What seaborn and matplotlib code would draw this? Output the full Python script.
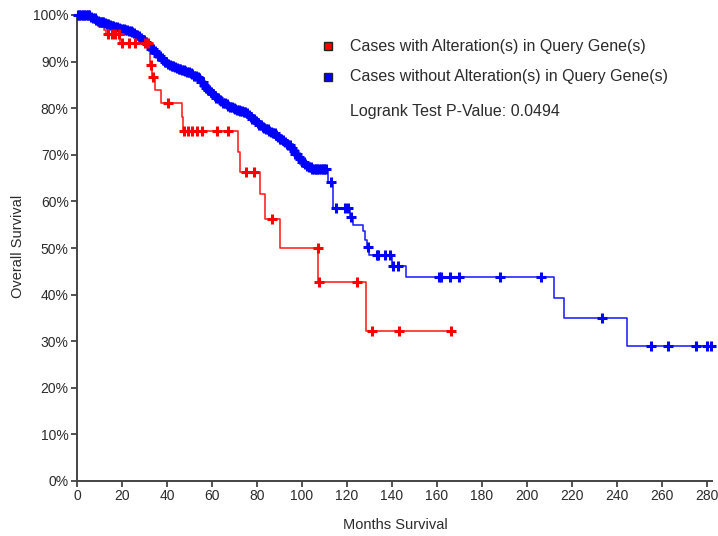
import numpy as np
import pandas as pd
import seaborn as sns
import matplotlib
matplotlib.use("Agg")
import matplotlib.pyplot as plt
from matplotlib.patches import Rectangle

# ---- Kaplan-Meier step data (months, % surviving after the drop) ----
altered_times = [0, 6, 8, 10, 12, 13, 19, 32.4, 33.5, 34.5, 37.3, 46.5, 47,
                 71.7, 72.5, 81.3, 83.6, 90.5, 107.3, 128.5]
altered_surv = [100, 99.2, 98.3, 97.5, 96.8, 96.0, 94.0, 89.3, 86.6, 83.9,
                81.2, 78.2, 75.2, 70.7, 66.4, 61.5, 56.2, 50.0, 42.8, 32.1]
altered_censored = [14, 15.5, 17, 18.5, 20, 23, 26, 30.1, 31.6, 32.7, 34, 40.6,
                    47.7, 49.5, 51, 53.2, 55.4, 62.1, 67.3, 75.1, 78.8, 86.5,
                    107.0, 107.8, 124.4, 131.1, 143.1, 166.2]

unaltered_times = [0, 6, 7, 8, 9, 10, 11, 12, 13, 14, 15, 16, 17, 18, 19, 20,
                   21, 22, 23, 24, 25, 26, 27, 28, 29, 30, 31, 32, 33, 34, 35,
                   36, 37, 38, 39, 40, 41, 42, 43, 44, 45, 46, 47, 48, 49, 50,
                   51, 52, 53, 54, 55, 56, 57, 58, 59, 60, 61, 62, 63, 64, 65,
                   66, 67, 68, 69, 70, 71, 72, 73, 74, 75, 76, 77, 78, 79, 80,
                   81, 82, 83, 84, 85, 86, 87, 88, 89, 90, 91, 92, 93, 94, 95,
                   96, 97, 98, 99, 100, 101, 102, 103, 104,
                   111.7, 113.9, 121.3, 122.8, 127.0, 128.0, 129.0, 130.0,
                   139.9, 146.2, 212.0, 216.6, 244.7]
unaltered_surv = [100, 99.6, 99.3, 99.0, 98.8, 98.6, 98.4, 98.2, 98.0, 97.9,
                  97.7, 97.6, 97.4, 97.3, 97.1, 97.0, 96.8, 96.7, 96.5, 96.3,
                  96.1, 95.8, 95.4, 95.0, 94.6, 94.2, 93.8, 93.3, 92.8, 92.3,
                  91.8, 91.3, 90.8, 90.4, 89.9, 89.5, 89.3, 89.1, 88.9, 88.7,
                  88.5, 88.3, 88.1, 87.9, 87.7, 87.5, 87.3, 87.0, 86.7, 86.4,
                  85.7, 85.0, 84.4, 83.9, 83.4, 83.0, 82.6, 82.2, 81.8, 81.5,
                  81.1, 80.8, 80.5, 80.2, 80.0, 79.8, 79.6, 79.5, 79.4, 79.2,
                  78.9, 78.6, 78.1, 77.6, 77.2, 76.8, 76.4, 76.0, 75.7, 75.5,
                  75.2, 75.0, 74.6, 74.3, 73.8, 73.4, 73.1, 72.8, 72.4, 72.0,
                  71.4, 70.8, 70.2, 69.6, 69.0, 68.5, 68.0, 67.6, 67.3, 67.0,
                  64.2, 58.5, 56.7, 54.9, 53.6, 51.7, 50.2, 48.5,
                  46.1, 43.8, 39.2, 34.9, 29.0]
unaltered_censored = [0.3, 1.0, 1.8, 2.5, 3.3, 4.0, 4.8, 5.5, 6.3, 7.1, 7.8,
                      8.6, 9.3, 10.1, 10.9, 11.6, 12.4, 13.2, 13.9, 14.7, 15.4,
                      16.2, 17.0, 17.7, 18.5, 19.3, 20.0, 20.8, 21.5, 22.3, 23.1,
                      23.8, 24.6, 25.4, 26.1, 26.9, 27.6, 28.4, 29.2, 29.9, 30.7,
                      31.5, 32.2, 33.0, 33.7, 34.5, 35.3, 36.0, 36.8, 37.6, 38.3,
                      39.1, 39.8, 40.6, 41.4, 42.1, 42.9, 43.7, 44.4, 45.2, 45.9,
                      46.7, 47.5, 48.2, 49.0, 49.8, 50.5, 51.3, 52.0, 52.8, 53.6,
                      54.3, 55.1, 55.9, 56.6, 57.4, 58.1, 58.9, 59.7, 60.4, 61.2,
                      62.0, 62.7, 63.5, 64.2, 65.0, 65.8, 66.5, 67.3, 68.1, 68.8,
                      69.6, 70.3, 71.1, 71.9, 72.6, 73.4, 74.2, 74.9, 75.7, 76.4,
                      77.2, 78.0, 78.7, 79.5, 80.3, 81.0, 81.8, 82.5, 83.3, 84.1,
                      84.8, 85.6, 86.4, 87.1, 87.9, 88.6, 89.4, 90.2, 90.9, 91.7,
                      92.5, 93.2, 94.0, 94.7, 95.5, 96.3, 97.0, 97.8, 98.6, 99.3,
                      100.1, 100.8, 101.6, 102.4, 103.1, 103.9, 104.7, 105.4,
                      106.2, 106.9, 107.7, 108.5, 109.2, 110.0, 110.8,
                      113, 115.4, 119, 120.6, 122, 129.5, 133.2, 134, 136.9,
                      139.1, 140.6, 142.8, 161, 161.8, 165.8, 169.8, 188, 206.5,
                      233.6, 255.4, 262.8, 275.4, 280.1, 282.1]

x_ticks = list(range(0, 281, 20))
y_ticks = list(range(0, 101, 10))

RED = "#ff0000"
BLUE = "#0000ff"
TEXT = "#2b2b2b"


def step_frame(times, surv, censored):
    t = np.asarray(times, float)
    s = np.asarray(surv, float)
    end = max(max(censored), t[-1])
    line = pd.DataFrame({"month": np.append(t, end), "pct": np.append(s, s[-1])})
    c = np.asarray(censored, float)
    idx = np.searchsorted(t, c, side="right") - 1
    marks = pd.DataFrame({"month": c, "pct": s[idx]})
    return line, marks


sns.set_theme(style="white")
plt.rcParams["font.family"] = ["Liberation Sans", "DejaVu Sans"]

fig = plt.figure(figsize=(7.18, 5.36), dpi=100)
ax = fig.add_axes([77 / 718, 1 - 481 / 536, (712 - 77) / 718, (481 - 15) / 536])

for times, surv, cens, col in [(unaltered_times, unaltered_surv, unaltered_censored, BLUE),
                               (altered_times, altered_surv, altered_censored, RED)]:
    line, marks = step_frame(times, surv, cens)
    sns.lineplot(data=line, x="month", y="pct", ax=ax, color=col, linewidth=1.2,
                 drawstyle="steps-post", estimator=None, sort=False, alpha=0.85)
    sns.scatterplot(data=marks, x="month", y="pct", ax=ax, color=col, marker="+",
                    s=50, linewidth=2.2, zorder=3, clip_on=False)

ax.set_xlim(0, 282.4)
ax.set_ylim(0, 100)
ax.set_xticks(x_ticks)
ax.set_yticks(y_ticks)
ax.set_yticklabels([f"{v}%" for v in y_ticks])
ax.tick_params(axis="both", which="major", direction="out", length=4, width=1.3,
               color="#444444", labelsize=10, labelcolor=TEXT, pad=2,
               left=True, bottom=True)
for side in ["top", "right"]:
    ax.spines[side].set_visible(False)
for side in ["left", "bottom"]:
    ax.spines[side].set_color("#444444")
    ax.spines[side].set_linewidth(1.4)
ax.set_xlabel("")
ax.set_ylabel("")

fig.text(395 / 718, 1 - 525 / 536, "Months Survival", ha="center", va="center",
         fontsize=10.5, color=TEXT)
fig.text(18 / 718, 1 - 246 / 536, "Overall Survival", ha="center", va="center",
         rotation=90, fontsize=10.5, color=TEXT)

# legend block
legend_rows = [("Cases with Alteration(s) in Query Gene(s)", RED, 46),
               ("Cases without Alteration(s) in Query Gene(s)", BLUE, 77)]
for label, col, ypx in legend_rows:
    fig.patches.append(Rectangle((324 / 718, 1 - (ypx + 4) / 536), 8 / 718, 8 / 536,
                                 transform=fig.transFigure, facecolor=col,
                                 edgecolor="#222222", linewidth=1.0))
    fig.text(350 / 718, 1 - ypx / 536, label, ha="left", va="center",
             fontsize=11.5, color=TEXT)
fig.text(350 / 718, 1 - 112 / 536, "Logrank Test P-Value: 0.0494", ha="left",
         va="center", fontsize=11.5, color=TEXT)

fig.savefig("out.png", dpi=100)
